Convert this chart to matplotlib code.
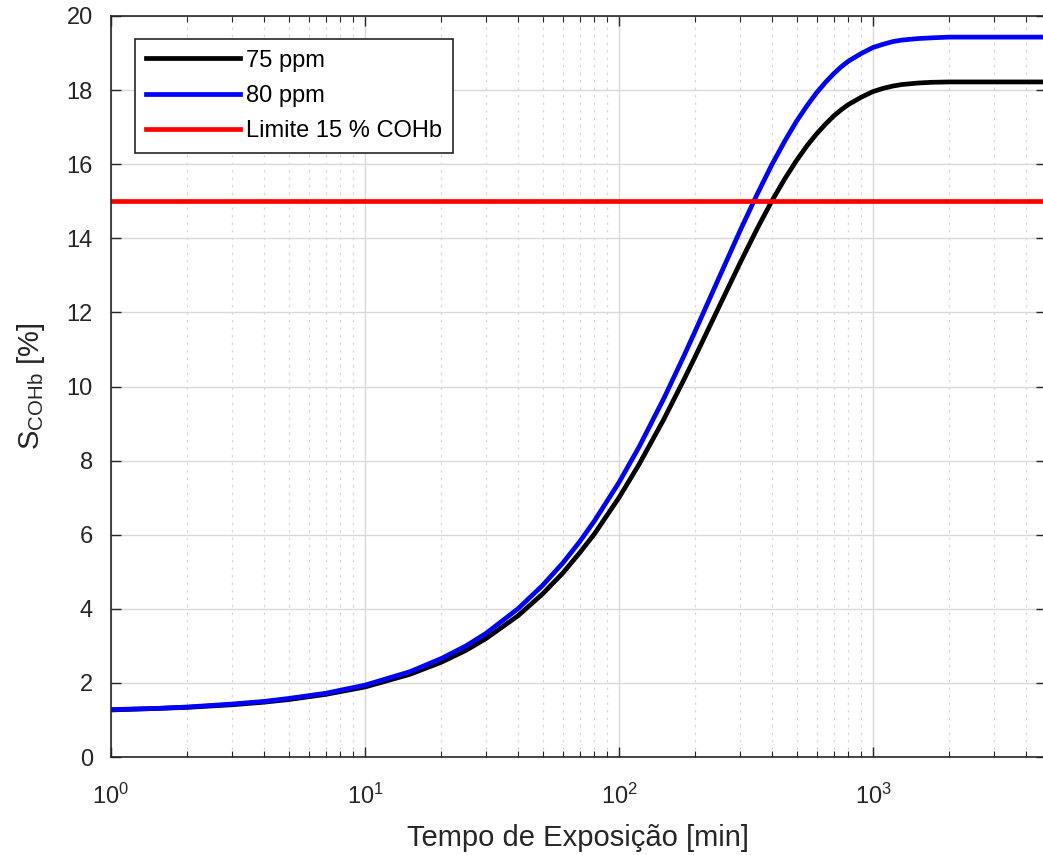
import matplotlib
matplotlib.use("Agg")
import matplotlib.pyplot as plt
from matplotlib.ticker import LogLocator, MultipleLocator

plt.rcParams['font.family'] = ['Liberation Sans', 'DejaVu Sans']
plt.rcParams['mathtext.fontset'] = 'custom'
plt.rcParams['mathtext.rm'] = 'Liberation Sans'
plt.rcParams['mathtext.it'] = 'Liberation Sans:italic'
plt.rcParams['mathtext.default'] = 'regular'

# exposure time [min] and COHb saturation [%]
tempo = [1, 1.5, 2, 3, 4, 5, 7, 10, 15, 20, 25, 30, 40, 50, 60, 70, 80,
         100, 120, 150, 180, 200, 250, 300, 350, 400, 450, 500, 550, 600,
         650, 700, 750, 800, 900, 1000, 1100, 1200, 1300, 1500, 1700, 2000,
         2500, 3000, 4800]
s_75ppm = [1.27, 1.31, 1.34, 1.41, 1.48, 1.55, 1.69, 1.89, 2.23, 2.56, 2.88,
           3.20, 3.81, 4.40, 4.96, 5.51, 6.02, 7.00, 7.90, 9.11, 10.18, 10.82,
           12.21, 13.34, 14.26, 15.01, 15.61, 16.10, 16.50, 16.82, 17.08,
           17.30, 17.47, 17.61, 17.81, 17.96, 18.05, 18.11, 18.15, 18.19,
           18.21, 18.22, 18.22, 18.22, 18.22]
s_80ppm = [1.28, 1.31, 1.35, 1.43, 1.50, 1.58, 1.72, 1.94, 2.30, 2.66, 3.00,
           3.34, 4.00, 4.63, 5.23, 5.81, 6.37, 7.41, 8.37, 9.67, 10.82, 11.51,
           13.00, 14.21, 15.19, 15.99, 16.63, 17.16, 17.58, 17.93, 18.21,
           18.44, 18.63, 18.78, 18.99, 19.15, 19.24, 19.31, 19.35, 19.39,
           19.41, 19.43, 19.43, 19.43, 19.43]
limite = 15

x_range = [1, 4800]
labels = ['75 ppm', '80 ppm', 'Limite 15 % COHb']

fig = plt.figure(figsize=(10.43, 8.55), dpi=100)
ax = fig.add_axes([0.1064, 0.1146, 0.8965, 0.8667])

ax.semilogx(tempo, s_75ppm, color='black', lw=3.4, label=labels[0])
ax.semilogx(tempo, s_80ppm, color='blue', lw=3.4, label=labels[1])
ax.semilogx(x_range, [limite, limite], color='red', lw=3.4, label=labels[2])

ax.set_xlim(x_range)
ax.set_ylim(0, 20)
ax.yaxis.set_major_locator(MultipleLocator(2))
ax.xaxis.set_major_locator(LogLocator(base=10, numticks=10))
ax.xaxis.set_minor_locator(LogLocator(base=10, subs=range(2, 10), numticks=20))

ax.grid(True, which='major', color='#d9d9d9', lw=1)
ax.grid(True, which='minor', axis='x', color='#d9d9d9', lw=0.9, ls=(0, (2, 4)))
ax.set_axisbelow(True)

dark = '#262626'
for sp in ax.spines.values():
    sp.set_color(dark)
    sp.set_linewidth(1.2)
ax.tick_params(which='both', direction='in', top=True, right=True,
               colors=dark, labelsize=17)
ax.tick_params(which='major', length=7, width=1)
ax.tick_params(which='minor', length=4, width=0.8)
ax.tick_params(axis='x', pad=19)
ax.tick_params(axis='y', pad=13)

ax.set_xlabel('Tempo de Exposição [min]', fontsize=21, color=dark, labelpad=11)
ax.set_ylabel(r'S$_{\mathrm{COHb}}$ [%]', fontsize=21, color=dark, labelpad=14)

leg = ax.legend(loc='upper left', bbox_to_anchor=(0.026, 0.969), fontsize=17,
                handlelength=4.0, handletextpad=0.25, labelspacing=0.56,
                borderpad=0.45, fancybox=False, framealpha=1, borderaxespad=0)
leg.get_frame().set_edgecolor(dark)
leg.get_frame().set_linewidth(1.2)

fig.savefig('out.png', dpi=100)
